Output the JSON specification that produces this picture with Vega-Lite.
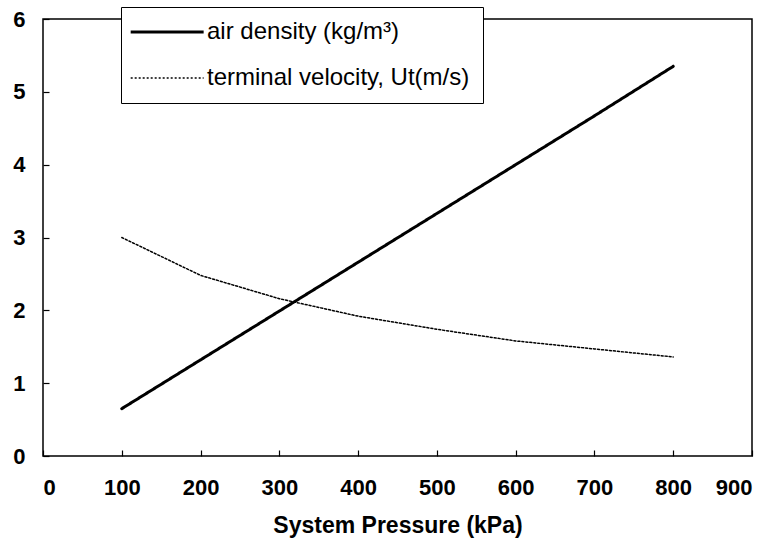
{
  "$schema": "https://vega.github.io/schema/vega-lite/v6.json",
  "autosize": "none",
  "width": 709,
  "height": 437,
  "padding": {"left": 43, "top": 19, "right": 24, "bottom": 90},
  "background": "white",
  "config": {
    "font": "Liberation Sans",
    "view": {"stroke": "black", "strokeWidth": 1.5},
    "axis": {
      "domain": false,
      "grid": false,
      "tickColor": "black",
      "tickSize": 6,
      "offset": -6,
      "tickWidth": 1.2,
      "labelColor": "black",
      "labelFont": "Liberation Sans",
      "labelFontWeight": "bold",
      "labelFontSize": 22,
      "titleColor": "black",
      "titleFont": "Liberation Sans",
      "titleFontWeight": "bold",
      "titleFontSize": 23
    }
  },
  "data": {
    "values": [
      {"p": 100, "v": 0.65, "series": "air density (kg/m³)"},
      {"p": 200, "v": 1.32, "series": "air density (kg/m³)"},
      {"p": 300, "v": 1.99, "series": "air density (kg/m³)"},
      {"p": 400, "v": 2.66, "series": "air density (kg/m³)"},
      {"p": 500, "v": 3.33, "series": "air density (kg/m³)"},
      {"p": 600, "v": 4.0, "series": "air density (kg/m³)"},
      {"p": 700, "v": 4.67, "series": "air density (kg/m³)"},
      {"p": 800, "v": 5.35, "series": "air density (kg/m³)"},
      {"p": 100, "v": 3.0, "series": "terminal velocity, Ut(m/s)"},
      {"p": 200, "v": 2.48, "series": "terminal velocity, Ut(m/s)"},
      {"p": 300, "v": 2.16, "series": "terminal velocity, Ut(m/s)"},
      {"p": 400, "v": 1.92, "series": "terminal velocity, Ut(m/s)"},
      {"p": 500, "v": 1.74, "series": "terminal velocity, Ut(m/s)"},
      {"p": 600, "v": 1.58, "series": "terminal velocity, Ut(m/s)"},
      {"p": 700, "v": 1.47, "series": "terminal velocity, Ut(m/s)"},
      {"p": 800, "v": 1.36, "series": "terminal velocity, Ut(m/s)"}
    ]
  },
  "mark": {"type": "line", "color": "black", "strokeCap": "round"},
  "encoding": {
    "x": {
      "field": "p",
      "type": "quantitative",
      "scale": {"domain": [0, 900], "nice": false},
      "axis": {"values": [0, 100, 200, 300, 400, 500, 600, 700, 800, 900], "labelPadding": 21, "title": "System Pressure (kPa)", "titlePadding": 16}
    },
    "y": {
      "field": "v",
      "type": "quantitative",
      "scale": {"domain": [0, 6], "nice": false},
      "axis": {"values": [0, 1, 2, 3, 4, 5, 6], "labelPadding": 18, "title": null}
    },
    "strokeDash": {
      "field": "series",
      "type": "nominal",
      "scale": {"domain": ["air density (kg/m³)", "terminal velocity, Ut(m/s)"], "range": [[1, 0], [2, 2]]},
      "legend": {
        "title": null,
        "orient": "none",
        "legendX": 78,
        "legendY": -12,
        "fillColor": "white",
        "strokeColor": "black",
        "padding": 13,
        "symbolType": "M-2.1,0H7.9",
        "symbolSize": 213,
        "symbolStrokeColor": "black",
        "symbolFillColor": "transparent",
        "labelFont": "Liberation Sans",
        "labelFontSize": 24,
        "labelColor": "black",
        "labelOffset": 49,
        "rowPadding": 22,
        "labelLimit": 400
      }
    },
    "strokeWidth": {
      "field": "series",
      "type": "nominal",
      "scale": {"domain": ["air density (kg/m³)", "terminal velocity, Ut(m/s)"], "range": [3, 1.5]},
      "legend": null
    }
  }
}
